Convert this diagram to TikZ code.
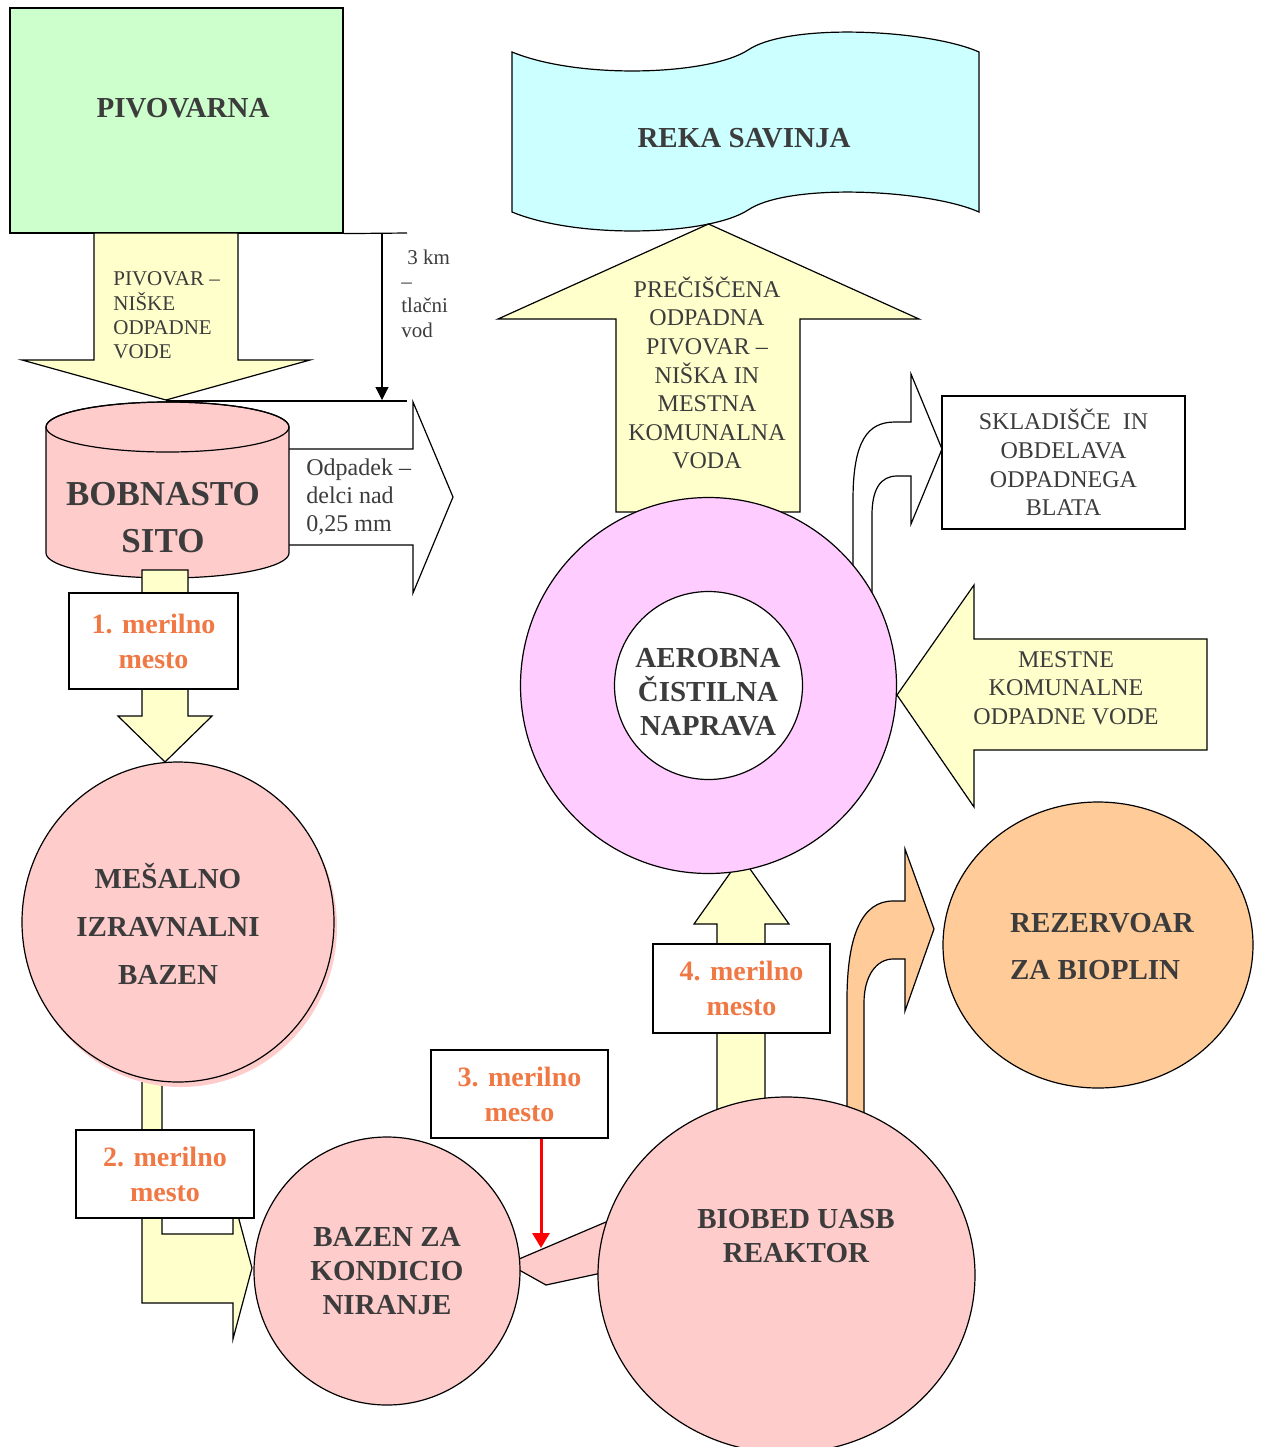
\documentclass[tikz,border=0pt]{standalone}
\usepackage{fontspec}
\setmainfont{Liberation Serif}
\usepackage{tikz}
\usetikzlibrary{shapes.geometric, arrows.meta, positioning, calc}
\definecolor{txtgray}{HTML}{3C3C3C}
\definecolor{plantgreen}{HTML}{CCFFCC}
\definecolor{flowyellow}{HTML}{FFFFCC}
\definecolor{tankpink}{HTML}{FFCCCC}
\definecolor{rivercyan}{HTML}{CCFFFF}
\definecolor{aeromagenta}{HTML}{FFCCFF}
\definecolor{gasorange}{HTML}{FFCC99}
\definecolor{probeorange}{HTML}{F07844}
\tikzset{
  outline/.style={draw, line width=0.6pt, line join=miter},
  yarrow/.style={outline, fill=flowyellow},
  warrow/.style={outline, fill=white},
  tank/.style={ellipse, draw, line width=0.6pt, fill=tankpink, inner sep=0pt},
  measbox/.style={rectangle, draw, line width=0.6pt, fill=white, inner sep=0pt, font=\fontsize{14}{17.5}\selectfont\bfseries, text=probeorange, align=center},
  bigtxt/.style={font=\fontsize{14.5}{17}\selectfont\bfseries, text=txtgray, align=center},
  smalltxt/.style={font=\fontsize{12}{14.3}\selectfont, text=txtgray, align=center},
  tinytxt/.style={font=\fontsize{10.5}{12.2}\selectfont, text=txtgray, align=left, anchor=west, inner sep=0pt},
  probearrow/.style={red, line width=1.5pt, -{Triangle[length=7.5pt, width=8.5pt]}},
}

\begin{document}
\begin{tikzpicture}[x=0.5pt, y=-0.5pt]
  \useasboundingbox (0,0) rectangle (1261,1447);

  % Pivovarna and inflow
  \node[rectangle, outline, fill=plantgreen, minimum width=166.5pt, minimum height=112.5pt] (pivovarna) at (176.5,120.5) {};
  \node[bigtxt] (pivovarnalbl) at (183,108) {PIVOVARNA};

  \draw[yarrow] (94,233) -- (238,233) -- (238,360) -- (310,360) -- (166,400) -- (22,360) -- (94,360) -- cycle;
  \node[tinytxt] (inflowlbl) at (113,315.5) {PIVOVAR --\\NIŠKE\\ODPADNE\\VODE};

  % pressure pipe
  \coordinate (pipeend) at (407,233);
  \coordinate (pipetop) at (382,233);
  \coordinate (pipebot) at (382,400);
  \coordinate (sitotop) at (166,401);
  \coordinate (sitoline) at (407,401);
  \draw[line width=0.6pt] (pivovarna.south east) -- (pipeend);
  \draw[line width=0.6pt, -{Triangle[length=6.5pt, width=6.5pt]}] (pipetop) -- (pipebot);
  \draw[line width=0.6pt] (sitotop) -- (sitoline);
  \node[tinytxt] (pipelbl) at (401,293.5) {\hspace{3pt}3 km\\--\\tlačni\\vod};

  % Odpadek
  \draw[warrow] (286,449) -- (413,449) -- (413,402) -- (453,497) -- (413,593) -- (413,545) -- (286,545) -- cycle;
  \node[tinytxt, font=\fontsize{12}{14}\selectfont] (wastelbl) at (306,497) {Odpadek --\\delci nad\\0,25 mm};

  % Bobnasto sito
  \draw[outline, fill=tankpink] (46,427) -- (46,553) arc[start angle=180, end angle=0, x radius=121.5, y radius=25]
    -- (289,427) arc[start angle=0, end angle=-180, x radius=121.5, y radius=25] -- cycle;
  \draw[line width=0.6pt] (167.5,427) ellipse[x radius=121.5, y radius=25];
  \node[bigtxt, font=\fontsize{17.5}{23.5}\selectfont\bfseries] (sito) at (163,518) {BOBNASTO\\SITO};

  % 1. merilno mesto
  \draw[yarrow] (142,570) -- (188,570) -- (188,716) -- (212,716) -- (165,762) -- (118,716) -- (142,716) -- cycle;
  \node[measbox, minimum width=84.5pt, minimum height=48pt] (mm1) at (153.5,641) {1. merilno\\mesto};

  % Mesalno izravnalni bazen
  \draw[yarrow] (142,1070) -- (142,1303) -- (233,1303) -- (233,1339) -- (252,1268) -- (233,1197) -- (233,1234) -- (162,1234) -- (162,1070) -- cycle;
  \fill[tankpink] (181,927) ellipse[x radius=156, y radius=160];
  \node[tank, minimum width=156pt, minimum height=160pt] (mesalno) at (178,922) {};
  \node[bigtxt, font=\fontsize{14.5}{24}\selectfont\bfseries] (mesalnolbl) at (168,924) {MEŠALNO\\IZRAVNALNI\\BAZEN};
  \node[measbox, minimum width=89pt, minimum height=44pt] (mm2) at (165,1174) {2. merilno\\mesto};

  % Bazen za kondicioniranje
  \draw[outline, fill=tankpink] (512,1262) -- (620,1216) -- (620,1269) -- (546,1285) -- (512,1266) -- cycle;
  \node[tank, minimum width=133pt, minimum height=134pt, bigtxt] (kondicio) at (387,1271) {BAZEN ZA\\KONDICIO\\NIRANJE};

  % Biobed UASB
  \draw[yarrow] (717,1120) -- (717,924) -- (694,924) -- (741.5,857) -- (789,924) -- (765,924) -- (765,1120) -- cycle;
  \draw[outline, fill=gasorange] (847,1120) -- (847,1000) .. controls (847,935) and (862,901) .. (893,901) -- (905,901)
    -- (905,849) -- (934,929) -- (905,1011) -- (905,959) -- (893,959) .. controls (877,959) and (864,975) .. (864,1003)
    -- (864,1120) -- cycle;
  \node[tank, minimum width=188.5pt, minimum height=178pt] (biobed) at (786.5,1275) {};
  \node[bigtxt] (biobedlbl) at (796,1236) {BIOBED UASB\\REAKTOR};
  \node[measbox, minimum width=88.5pt, minimum height=44.5pt] (mm4) at (741.5,988.5) {4. merilno\\mesto};
  \node[measbox, minimum width=88.5pt, minimum height=44pt] (mm3) at (519.5,1094) {3. merilno\\mesto};
  \coordinate (probe3) at (541,1248);
  \draw[probearrow] (mm3.south -| probe3) -- (probe3);

  % Reka Savinja
  \draw[outline, fill=rivercyan] (512,52) .. controls (580,80) and (710,75) .. (748,50)
    .. controls (790,22) and (930,30) .. (979,52) -- (979,212)
    .. controls (930,190) and (790,182) .. (748,210)
    .. controls (710,235) and (580,240) .. (512,212) -- cycle;
  \node[bigtxt] (reka) at (744,138) {REKA SAVINJA};

  \draw[yarrow] (616,512) -- (616,319) -- (498,319) -- (708.5,224) -- (919,319) -- (800,319) -- (800,512) -- cycle;
  \node[smalltxt] (outflowlbl) at (707,373) {PREČIŠČENA\\ODPADNA\\PIVOVAR --\\NIŠKA IN\\MESTNA\\KOMUNALNA\\VODA};

  % Aerobna cistilna naprava
  \draw[warrow] (853,575) -- (853,500) .. controls (853,440) and (868,422) .. (895,422) -- (911,422)
    -- (911,374) -- (942,449) -- (911,524) -- (911,476) -- (897,476) .. controls (880,476) and (872,490) .. (872,515)
    -- (872,600) -- cycle;
  \node[tank, fill=aeromagenta, minimum size=188pt] (aerobna) at (708.5,685.5) {};
  \node[circle, draw, line width=0.6pt, fill=white, minimum size=94pt, inner sep=0pt] (aerobnacore) at (708.5,685.5) {};
  \node[bigtxt] (aerobnalbl) at (708,692) {AEROBNA\\ČISTILNA\\NAPRAVA};

  \draw[yarrow] (1207,639) -- (974,639) -- (974,585) -- (897,695) -- (974,807) -- (974,750) -- (1207,750) -- cycle;
  \node[smalltxt] (mestnelbl) at (1066,688) {MESTNE\\KOMUNALNE\\ODPADNE VODE};

  \node[rectangle, outline, fill=white, minimum width=121.5pt, minimum height=66.5pt, smalltxt] (skladisce) at (1063.5,462.5) {SKLADIŠČE\ \ IN\\OBDELAVA\\ODPADNEGA\\BLATA};

  % Rezervoar za bioplin
  \node[tank, fill=gasorange, minimum width=155pt, minimum height=143pt] (rezervoar) at (1098,945) {};
  \node[bigtxt, font=\fontsize{14.5}{23.5}\selectfont\bfseries, align=left, anchor=west] (rezervoarlbl) at (1003,947) {REZERVOAR\\ZA BIOPLIN};
\end{tikzpicture}
\end{document}
